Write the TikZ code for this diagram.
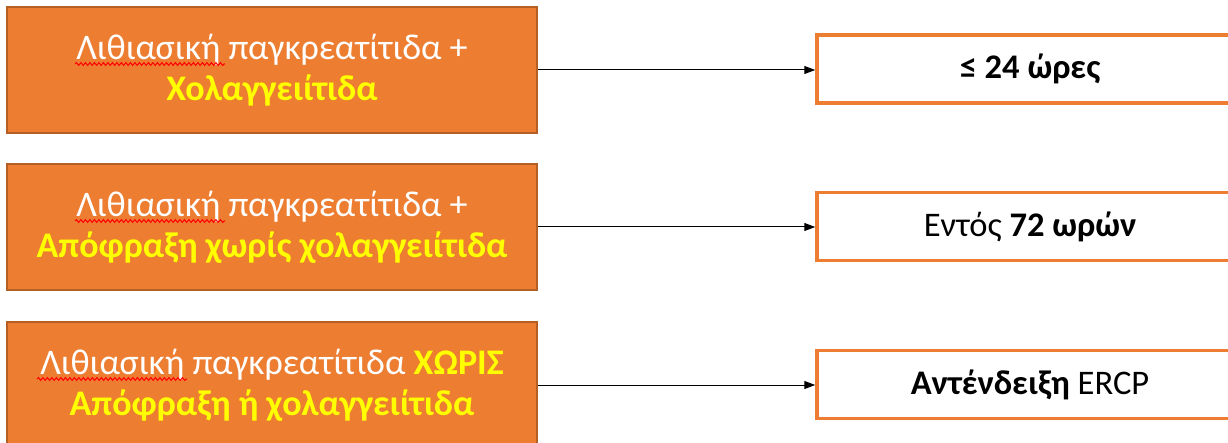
\documentclass[tikz,border=0pt]{standalone}
\usepackage{fontspec}
\setmainfont{Carlito}
\usetikzlibrary{arrows.meta,decorations.pathmorphing}
\definecolor{accent}{HTML}{ED7D31}
\definecolor{accentdark}{HTML}{B45F24}
\definecolor{hiyellow}{HTML}{FFFF00}
\begin{document}
\begin{tikzpicture}[x=1pt,y=-1pt,
  leftbox/.style={draw=accentdark,line width=1.5pt,fill=accent,minimum width=530pt,minimum height=126pt,
    text=white,align=center,inner sep=0pt,font=\fontsize{36}{41}\selectfont},
  rightbox/.style={draw=accent,line width=3.5pt,fill=white,minimum width=426pt,minimum height=68pt,
    text=black,align=center,inner sep=0pt,font=\fontsize{34.5}{40}\selectfont},
  link/.style={draw=black,line width=1pt,-{Triangle[length=11pt,width=8pt]}},
  spell/.style={draw=red,line width=1pt,decorate,decoration={snake,amplitude=1.4pt,segment length=4.5pt}}
]
\useasboundingbox (0,0) rectangle (1228,443);
\node[leftbox] (l1) at (272,70) {Λιθιασική παγκρεατίτιδα +\\\textcolor{hiyellow}{\bfseries Χολαγγειίτιδα}};
\node[leftbox] (l2) at (272,227) {Λιθιασική παγκρεατίτιδα +\\\textcolor{hiyellow}{\bfseries Απόφραξη χωρίς χολαγγειίτιδα}};
\node[leftbox] (l3) at (272,385) {Λιθιασική παγκρεατίτιδα \textcolor{hiyellow}{\bfseries ΧΩΡΙΣ}\\\textcolor{hiyellow}{\bfseries Απόφραξη ή χολαγγειίτιδα}};
\node[rightbox] (r1) at (1030,69) {\bfseries ≤ 24 ώρες};
\node[rightbox] (r2) at (1030,226.5) {Εντός \textbf{72 ωρών}};
\node[rightbox] (r3) at (1030,384.5) {\textbf{Αντένδειξη} ERCP};
\draw[link] (l1.east) -- (l1.east -| r1.west);
\draw[link] (l2.east) -- (l2.east -| r2.west);
\draw[link] (l3.east) -- (l3.east -| r3.west);
\coordinate (s1a) at (75,64); \coordinate (s1b) at (225,64);
\coordinate (s2a) at (75,221); \coordinate (s2b) at (225,221);
\coordinate (s3a) at (37,379); \coordinate (s3b) at (187,379);
\draw[spell] (s1a) -- (s1b);
\draw[spell] (s2a) -- (s2b);
\draw[spell] (s3a) -- (s3b);
\end{tikzpicture}
\end{document}
